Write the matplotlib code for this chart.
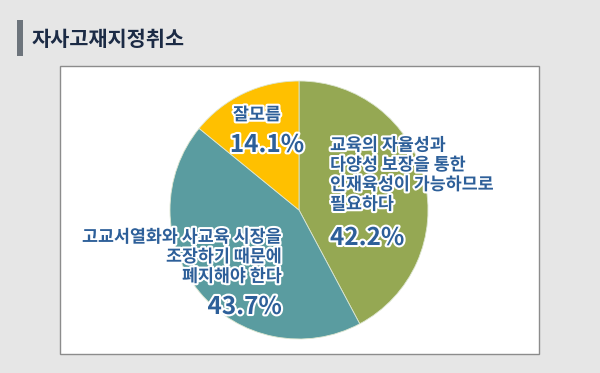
import matplotlib
matplotlib.use("Agg")
import matplotlib.pyplot as plt
import matplotlib.patheffects as pe
from matplotlib.patches import Rectangle

plt.rcParams['font.family'] = ['Noto Sans CJK KR', 'DejaVu Sans']

title = "자사고재지정취소"
categories = ["교육의 자율성과\n다양성 보장을 통한\n인재육성이 가능하므로\n필요하다",
              "고교서열화와 사교육 시장을\n조장하기 때문에\n폐지해야 한다",
              "잘모름"]
values = [42.2, 43.7, 14.1]
colors = ["#95a853", "#5a9ca0", "#ffc000"]

W, H = 600, 373
fig = plt.figure(figsize=(6.0, 3.73), dpi=100)
fig.patch.set_facecolor("#e6e6e6")
ax = fig.add_axes([0, 0, 1, 1])

def Y(py):
    return H - py

ax.pie(values, colors=colors, startangle=90, counterclock=False,
       center=(299, Y(210)), radius=129,
       wedgeprops=dict(linewidth=0.6, edgecolor="#dde6d0"))
ax.set_aspect('auto')
ax.set_xlim(0, W)
ax.set_ylim(0, H)
ax.axis('off')

# white panel behind pie
ax.add_patch(Rectangle((60, Y(354)), 479, 288, facecolor="white",
                       edgecolor="#8c8c8c", linewidth=1.0, zorder=0))
# title bar
ax.add_patch(Rectangle((17, Y(56)), 6, 36, facecolor="#6d747c",
                       edgecolor="none", zorder=1))
ax.text(32, Y(40), title, fontsize=15, fontweight='bold', color="#1c2b45",
        ha='left', va='center')

stroke = [pe.withStroke(linewidth=3, foreground="white")]
lab_c = "#2d5f99"
fs = 12.5

# green
ax.text(330, Y(175), categories[0], fontsize=fs, fontweight='bold',
        color=lab_c, ha='left', va='center', linespacing=1.12,
        path_effects=stroke, zorder=5)
ax.text(330, Y(238), f"{values[0]:.1f}%", fontsize=17.5, fontweight='bold',
        color=lab_c, ha='left', va='center', path_effects=stroke, zorder=5)
# teal
ax.text(282, Y(257), categories[1], fontsize=fs, fontweight='bold',
        color=lab_c, ha='right', va='center', linespacing=1.12,
        multialignment='right', path_effects=stroke, zorder=5)
ax.text(282, Y(307), f"{values[1]:.1f}%", fontsize=17.5, fontweight='bold',
        color=lab_c, ha='right', va='center', path_effects=stroke, zorder=5)
# yellow
ax.text(257, Y(115), categories[2], fontsize=fs, fontweight='bold',
        color=lab_c, ha='center', va='center', path_effects=stroke, zorder=5)
ax.text(267, Y(145), f"{values[2]:.1f}%", fontsize=17.5, fontweight='bold',
        color=lab_c, ha='center', va='center', path_effects=stroke, zorder=5)

fig.savefig("out.png", dpi=100, facecolor=fig.get_facecolor())
